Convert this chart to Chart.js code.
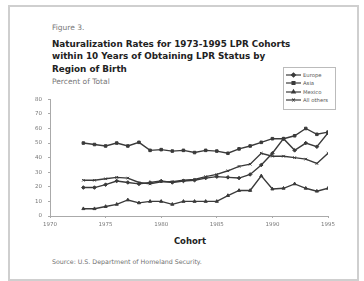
<!DOCTYPE html>
<html>
<head>
<meta charset="utf-8">
<script src="https://cdn.jsdelivr.net/npm/chart.js@4.4.1/dist/chart.umd.min.js"></script>
<style>
  html, body { margin: 0; padding: 0; background: #fff; }
  body { width: 364px; height: 281px; position: relative; overflow: hidden; font-family: 'DejaVu Sans', sans-serif; }
  .frame { position: absolute; left: 8px; top: 5px; width: 347px; height: 272px; border: 2px solid #cfcfcf; }
  .txt { position: absolute; white-space: nowrap; }
  #fig { left: 52px; top: 23px; font-size: 7.5px; color: #777; }
  #title { left: 52px; top: 38px; font-size: 8.8px; font-weight: bold; color: #222; line-height: 12.4px; }
  #unit { left: 52px; top: 77px; font-size: 7.5px; color: #777; }
  #xtitle { left: 190px; top: 236px; font-size: 8.5px; font-weight: bold; color: #222; transform: translateX(-50%); }
  #src { left: 52px; top: 258px; font-size: 6.3px; color: #707070; }
  #chartBox { position: absolute; left: 0; top: 90px; width: 364px; height: 145px; }
  #legend { position: absolute; left: 283px; top: 67px; width: 51px; height: 41px; border: 1px solid #bbb; background: #fff; }
  .li { position: absolute; left: 2px; height: 8px; font-size: 5.3px; color: #555; line-height: 8px; }
  .li canvas { position: absolute; left: 0; top: 0; }
  .li span { position: absolute; left: 17px; top: 0; white-space: nowrap; }
</style>
</head>
<body>
<div class="frame"></div>
<div class="txt" id="fig">Figure 3.</div>
<div class="txt" id="title">Naturalization Rates for 1973-1995 LPR Cohorts<br>within 10 Years of Obtaining LPR Status by<br>Region of Birth</div>
<div class="txt" id="unit">Percent of Total</div>
<div id="chartBox"><canvas id="chart"></canvas></div>
<div id="legend"></div>
<div class="txt" id="xtitle">Cohort</div>
<div class="txt" id="src">Source: U.S. Department of Homeland Security.</div>
<script>
// cohorts
const years = [1973, 1974, 1975, 1976, 1977, 1978, 1979, 1980, 1981, 1982, 1983, 1984,
  1985, 1986, 1987, 1988, 1989, 1990, 1991, 1992, 1993, 1994, 1995];

// percent naturalized within 10 years
const europe = [19.5, 19.5, 21.5, 24, 23, 22, 23, 24, 23, 24, 24.5, 26,
  27, 26.5, 26, 28.5, 35, 43, 53, 45, 50, 47.5, 57];
const asia = [50, 49, 48, 50, 48, 50.5, 45, 45.5, 44.5, 45, 43.5, 45,
  44.5, 43, 46, 48, 50.5, 53, 53, 55, 60, 56, 57.5];
const mexico = [5, 5, 6.5, 8, 11, 9, 10, 10, 8, 10, 10, 10,
  10, 14, 17.5, 17.5, 27.5, 18.5, 19, 22, 19, 17, 19];
const allOthers = [24.5, 24.5, 25.5, 26.5, 26, 23, 22, 23.5, 23.5, 24.5, 25, 27,
  28.5, 31, 34, 35.5, 43, 41, 41, 40, 39, 36, 43];

const seriesNames = ['Europe', 'Asia', 'Mexico', 'All others'];
const seriesData = [europe, asia, mexico, allOthers];
const markers = ['rectRot', 'rect', 'triangle', 'crossRot'];

const xTicks = [1970, 1975, 1980, 1985, 1990, 1995];
const yTicks = [0, 10, 20, 30, 40, 50, 60, 70, 80];

const lineColor = '#3a3a3a';

const datasets = seriesNames.map((name, i) => ({
  label: name,
  data: years.map((y, j) => ({ x: y, y: seriesData[i][j] })),
  borderColor: lineColor,
  backgroundColor: lineColor,
  borderWidth: 1.4,
  pointStyle: markers[i],
  pointRadius: 1.8,
  pointBorderWidth: 1,
  tension: 0
}));

new Chart(document.getElementById('chart'), {
  type: 'line',
  data: { datasets: datasets },
  options: {
    responsive: true,
    maintainAspectRatio: false,
    animation: false,
    layout: { padding: { left: 0, top: 9, right: 36, bottom: 0 } },
    plugins: { legend: { display: false }, tooltip: { enabled: false } },
    scales: {
      x: {
        type: 'linear',
        min: xTicks[0],
        max: xTicks[xTicks.length - 1],
        afterBuildTicks: s => { s.ticks = xTicks.map(v => ({ value: v })); },
        afterFit: s => { s.height = 19; },
        grid: { drawOnChartArea: false, drawTicks: true, tickLength: 2, color: '#aaa' },
        border: { color: '#aaa', width: 1 },
        ticks: {
          callback: v => String(v),
          font: { family: 'DejaVu Sans', size: 5.5 },
          color: '#777',
          maxRotation: 0,
          padding: 3
        }
      },
      y: {
        min: 0,
        max: 80,
        afterBuildTicks: s => { s.ticks = yTicks.map(v => ({ value: v })); },
        afterFit: s => { s.width = 50; },
        grid: { drawOnChartArea: false, drawTicks: true, tickLength: 2, color: '#aaa' },
        border: { color: '#aaa', width: 1 },
        ticks: {
          font: { family: 'DejaVu Sans', size: 5.5 },
          color: '#777',
          padding: 6
        }
      }
    }
  }
});

// legend in a small box
const legend = document.getElementById('legend');
seriesNames.forEach((name, i) => {
  const row = document.createElement('div');
  row.className = 'li';
  row.style.top = (3 + i * 8.3) + 'px';
  const c = document.createElement('canvas');
  c.width = 15; c.height = 8;
  const ctx = c.getContext('2d');
  ctx.strokeStyle = lineColor;
  ctx.fillStyle = lineColor;
  ctx.lineWidth = 1.2;
  ctx.beginPath(); ctx.moveTo(0, 4); ctx.lineTo(15, 4); ctx.stroke();
  Chart.helpers.drawPoint(ctx, { pointStyle: markers[i], radius: 2, borderWidth: 1 }, 7.5, 4);
  row.appendChild(c);
  const sp = document.createElement('span');
  sp.textContent = name;
  row.appendChild(sp);
  legend.appendChild(row);
});
</script>
</body>
</html>
